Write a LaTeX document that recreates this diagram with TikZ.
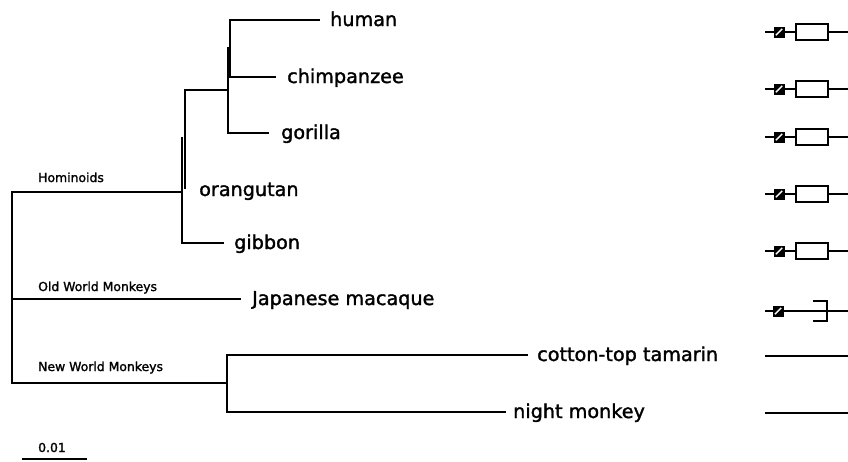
\documentclass[tikz,border=0pt]{standalone}
\usepackage{fontspec}
\setmainfont{DejaVu Sans}[FakeBold=1.6]
\usetikzlibrary{calc}
\begin{document}
\begin{tikzpicture}[x=1pt,y=-1pt,
  branch/.style={line width=2.8pt,line cap=rect},
  leaf/.style={anchor=base west,inner sep=0pt,font=\fontsize{19.2}{19}\selectfont},
  clade/.style={anchor=base west,inner sep=0pt,font=\fontsize{12.4}{12}\selectfont},
  thin/.style={line width=1.6pt},
  gene/.style={draw,line width=2.6pt,fill=white},
  hatchbox/.style={fill=black,minimum width=11pt,minimum height=11pt,inner sep=0pt},
  slash/.style={white,line width=1.4pt}]
\useasboundingbox (0,0) rectangle (848,461);
% tree coordinates
\coordinate (rt) at (12,192);
\coordinate (rb) at (12,383);
\coordinate (rm) at (12,299);
\coordinate (h1) at (182,192);
\coordinate (h1b) at (182,243);
\coordinate (h1t) at (182,138);
\coordinate (h2t) at (185,90);
\coordinate (h2b) at (185,188);
\coordinate (a1) at (228,90);
\coordinate (a1t) at (228,48);
\coordinate (a1b) at (228,133);
\coordinate (a2t) at (230,20);
\coordinate (a2b) at (230,77);
\coordinate (nw) at (227,383);
\coordinate (nwt) at (227,355);
\coordinate (nwb) at (227,412);
\coordinate (Lhum) at (319,20);
\coordinate (Lchi) at (275,77);
\coordinate (Lgor) at (268,133);
\coordinate (Lgib) at (223,243);
\coordinate (Lmac) at (240,299);
\coordinate (Ltam) at (527,355);
\coordinate (Lnig) at (505,412);
% branches
\draw[branch] (rt) -- (rb);
\draw[branch] (rt) -- (h1);
\draw[branch] (rm) -- (Lmac);
\draw[branch] (rb) -- (nw);
\draw[branch] (h1t) -- (h1b);
\draw[branch] (h2t) -- (h2b);
\draw[branch] (h1b) -- (Lgib);
\draw[branch] (h2t) -- (a1);
\draw[branch] (a1t) -- (a1b);
\draw[branch] (a2t) -- (a2b);
\draw[branch] (a2t) -- (Lhum);
\draw[branch] (a2b) -- (Lchi);
\draw[branch] (a1b) -- (Lgor);
\draw[branch] (nwt) -- (nwb);
\draw[branch] (nwt) -- (Ltam);
\draw[branch] (nwb) -- (Lnig);
% leaf labels
\node[leaf] (thum) at (330,26) {human};
\node[leaf] (tchi) at (287,83) {chimpanzee};
\node[leaf] (tgor) at (281,139) {gorilla};
\node[leaf] (tora) at (199,196) {orangutan};
\node[leaf] (tgib) at (234,249) {gibbon};
\node[leaf] (tmac) at (252,305) {Japanese macaque};
\node[leaf] (ttam) at (537,361) {cotton-top tamarin};
\node[leaf] (tnig) at (513,418) {night monkey};
% clade labels
\node[clade] (chom) at (38,182) {Hominoids};
\node[clade] (cold) at (38,291) {Old World Monkeys};
\node[clade] (cnew) at (38,371) {New World Monkeys};
% scale bar
\node[clade] (sc) at (38,452) {0.01};
\coordinate (s1) at (22,459);
\coordinate (s2) at (87,459);
\draw[thin] (s1) -- (s2);
% gene structures
\foreach \n/\yy in {1/32,2/89,3/137,4/194,5/251}{
  \coordinate (g\n a) at (765,\yy);
  \coordinate (g\n e) at (848,\yy);
  \draw[thin] (g\n a) -- (g\n e);
  \node[hatchbox] (sq\n) at (779,\yy) {};
  \draw[slash] ($(sq\n.south west)+(2.5pt,2.5pt)$) -- ($(sq\n.north east)+(-2.5pt,-2.5pt)$);
  \node[gene,minimum width=32pt,minimum height=16pt,inner sep=0pt] (ex\n) at (812,\yy) {};
}
\coordinate (g6a) at (765,311);
\coordinate (g6e) at (848,311);
\draw[thin] (g6a) -- (g6e);
\node[hatchbox] (sq6) at (778,311) {};
\draw[slash] ($(sq6.south west)+(2.5pt,2.5pt)$) -- ($(sq6.north east)+(-2.5pt,-2.5pt)$);
\coordinate (bk1) at (813,301);
\coordinate (bk2) at (827,301);
\coordinate (bk3) at (827,321);
\coordinate (bk4) at (813,321);
\draw[line width=2.6pt] (bk1) -- (bk2) -- (bk3) -- (bk4);
\coordinate (g7a) at (765,356);
\coordinate (g7e) at (848,356);
\draw[thin] (g7a) -- (g7e);
\coordinate (g8a) at (765,413);
\coordinate (g8e) at (848,413);
\draw[thin] (g8a) -- (g8e);
\end{tikzpicture}
\end{document}
